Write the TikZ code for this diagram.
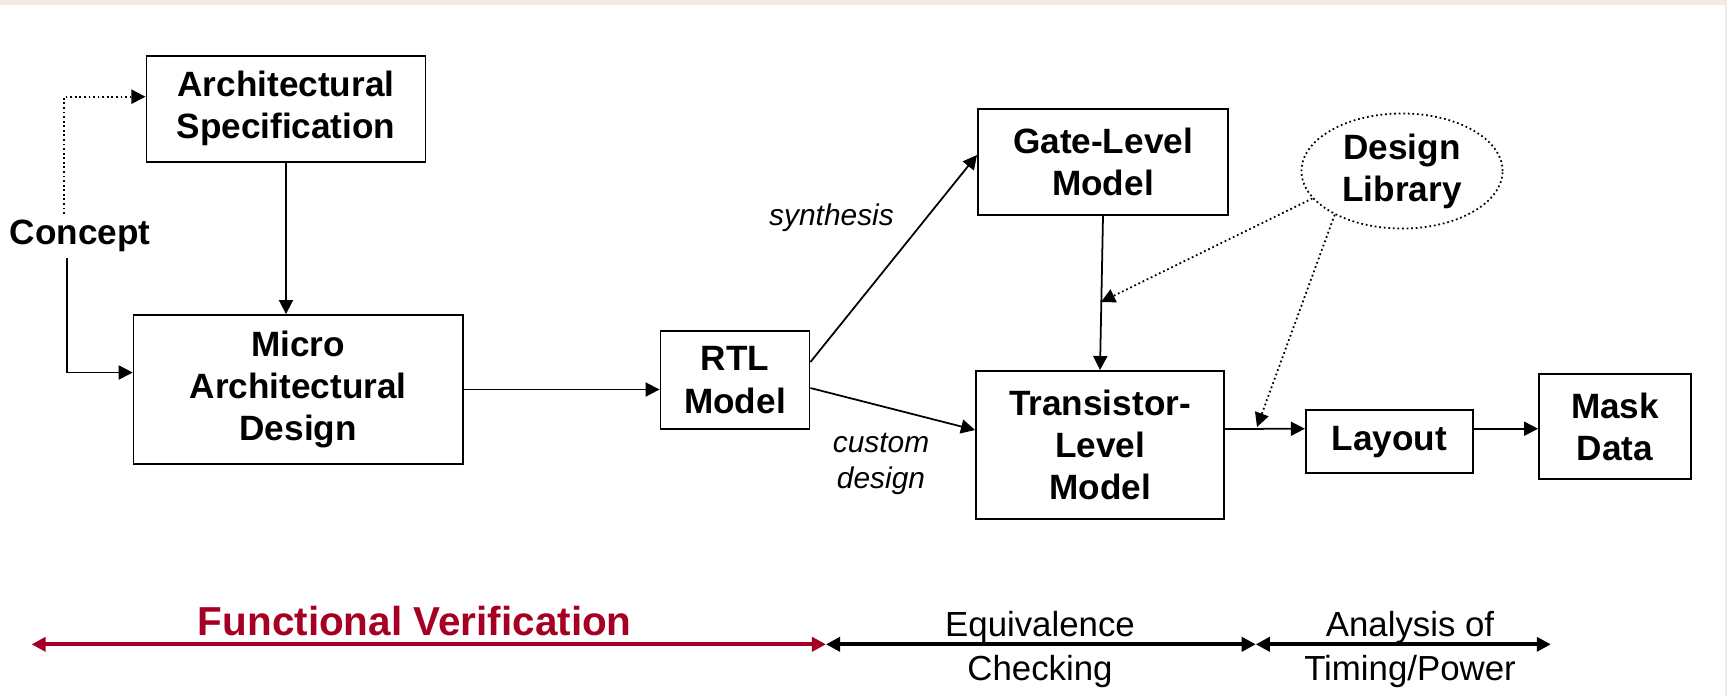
\documentclass[tikz,border=0pt]{standalone}
\usepackage{fontspec}
\setmainfont{Liberation Sans}
\usetikzlibrary{arrows.meta,shapes.geometric,calc}
\definecolor{fvred}{RGB}{165,0,35}
\definecolor{slidepink}{RGB}{243,234,229}

\begin{document}
\begin{tikzpicture}[>={Triangle[length=4pt,width=4pt]},x=0.01cm,y=-0.01cm,
  line width=0.5pt,
  fine dots/.style={dash pattern=on 0.5pt off 0.8pt},
  main node/.style={draw,align=center,inner sep=0pt,font=\bfseries\fontsize{10}{12}\selectfont},
  lib node/.style={main node,ellipse,fine dots},
  side note/.style={align=center,font=\itshape\fontsize{8.5}{10}\selectfont},
  span note/.style={align=center,font=\fontsize{9.9}{12.3}\selectfont}]
  \useasboundingbox (0,0) rectangle (1727,696);
  \fill[slidepink] (0,0) rectangle (1727,5);
  \fill[slidepink] (1725,0) rectangle (1727,696);

  \node[main node,minimum width=2.79cm,minimum height=1.06cm] (arch)   at (286,108.7)   {Architectural\\Specification};
  \node[main node,minimum width=3.29cm,minimum height=1.49cm] (micro)  at (298.2,389.5) {Micro\\Architectural\\Design};
  \node[main node,minimum width=1.49cm,minimum height=0.98cm] (rtl)    at (735,380)     {RTL\\Model};
  \node[main node,minimum width=2.50cm,minimum height=1.06cm] (gate)   at (1103,162)    {Gate-Level\\Model};
  \node[main node,minimum width=2.48cm,minimum height=1.48cm] (trans)  at (1100,445)    {Transistor-\\Level\\Model};
  \node[main node,minimum width=1.67cm,minimum height=0.63cm] (layout) at (1389.3,441.7) {Layout};
  \node[main node,minimum width=1.52cm,minimum height=1.05cm] (mask)   at (1615,426.7)  {Mask\\Data};
  \node[lib node,minimum width=2.01cm,minimum height=1.15cm]  (lib)    at (1402,171)    {Design\\Library};
  \node[font=\bfseries\fontsize{10}{12}\selectfont,inner sep=1.5pt] (concept) at (80,236) {Concept};
  \node[side note] (synth)  at (831.5,218) {synthesis};
  \node[side note] (custom) at (881,464)   {custom\\design};

  \coordinate (gtap) at (1101,302);
  \coordinate (ltap) at (1257,427);

  \draw[->,fine dots] ($(concept.north)+(-16,0)$) |- ($(arch.west)+(0,-12)$);
  \draw[->] ($(concept.south)+(-13,0)$) |- ($(micro.west)+(0,-17)$);
  \path
    (arch.south) edge [->] (arch.south |- micro.north)
    (micro.east) edge [->] (micro.east -| rtl.west)
    ($(rtl.east)+(0,-18)$) edge [->] ($(gate.west)+(0,-7)$)
    ($(rtl.east)+(0,8)$) edge [->] ($(trans.west)+(0,-15)$)
    (gate.south) edge [->] (trans.north)
    ($(trans.east)+(0,-16)$) edge [->] ($(layout.west)+(0,-13)$)
    ($(layout.east)+(0,-13)$) edge [->] ($(mask.west)+(0,2)$)
    (lib.197) edge [->,fine dots] (gtap)
    (lib.213) edge [->,fine dots] (ltap);

  \coordinate (fvl) at (31.6,644.3);
  \coordinate (fvr) at (826,644.3);
  \coordinate (eqr) at (1255.8,644.3);
  \coordinate (anr) at (1550.8,644.3);
  \node[font=\bfseries\fontsize{11.5}{13}\selectfont,text=fvred] (fv) at (414.8,621.5) {Functional Verification};
  \node[span note] (eq) at (1040,649.5) {Equivalence\\Checking};
  \node[span note] (an) at (1410,649.5) {Analysis of\\Timing/Power};
  \path
    (fvl) edge [<->,fvred,line width=1.1pt] (fvr)
    (fvr) edge [<->,line width=1.1pt] (eqr)
    (eqr) edge [<->,line width=1.1pt] (anr);
\end{tikzpicture}
\end{document}
